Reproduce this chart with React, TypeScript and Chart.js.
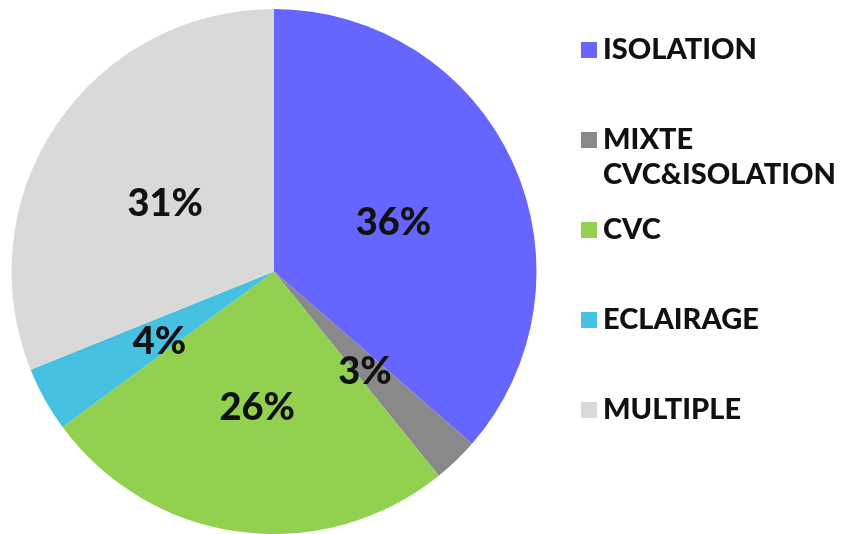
import React, { useEffect, useRef } from "react";
import { Chart, registerables } from "chart.js";

Chart.register(...registerables);

const categories: string[][] = [
  ["ISOLATION"],
  ["MIXTE", "CVC&ISOLATION"],
  ["CVC"],
  ["ECLAIRAGE"],
  ["MULTIPLE"],
];
const values: number[] = [36.4, 2.8, 25.7, 4.0, 31.1];
const colors: string[] = ["#6666FF", "#898989", "#92D050", "#47C1E1", "#D9D9D9"];

const FONT = "Lato, 'Open Sans', sans-serif";

const pctLabels = {
  id: "pctLabels",
  afterDatasetsDraw(chart: any) {
    const ctx = chart.ctx;
    const meta = chart.getDatasetMeta(0);
    const total = values.reduce((a, b) => a + b, 0);
    ctx.save();
    ctx.font = `900 38px ${FONT}`;
    ctx.fillStyle = "#111111";
    ctx.textAlign = "center";
    ctx.textBaseline = "middle";
    meta.data.forEach((arc: any, i: number) => {
      const p = arc.getCenterPoint();
      const pct = Math.round((values[i] / total) * 100);
      ctx.fillText(`${pct}%`, p.x, p.y + 6);
    });
    ctx.restore();
  },
};

const sideLegend = {
  id: "sideLegend",
  afterDraw(chart: any) {
    const ctx = chart.ctx;
    ctx.save();
    const boxX = 581;
    const textX = 603;
    const firstY = 50;
    const step = 90;
    const lineH = 35;
    ctx.font = `900 29px ${FONT}`;
    ctx.textBaseline = "middle";
    ctx.textAlign = "left";
    categories.forEach((lines, i) => {
      const cy = firstY + step * i;
      ctx.fillStyle = colors[i];
      ctx.fillRect(boxX, cy - 8, 16, 16);
      ctx.fillStyle = "#111111";
      lines.forEach((t, j) => {
        ctx.fillText(t, textX, cy + j * lineH);
      });
    });
    ctx.restore();
  },
};

export default function App() {
  const ref = useRef<HTMLCanvasElement | null>(null);
  useEffect(() => {
    document.body.style.margin = "0";
    if (!ref.current) return;
    const chart = new Chart(ref.current, {
      type: "pie",
      data: {
        labels: categories.map((c) => c.join(" ")),
        datasets: [
          {
            data: values,
            backgroundColor: colors,
            borderWidth: 0,
          },
        ],
      },
      options: {
        animation: false,
        responsive: false,
        layout: { padding: { left: 11, right: 307, top: 9, bottom: 0 } },
        plugins: {
          legend: { display: false },
          tooltip: { enabled: false },
        },
      },
      plugins: [pctLabels, sideLegend],
    });
    return () => chart.destroy();
  }, []);
  return (
    <div style={{ width: 844, height: 534 }}>
      <canvas ref={ref} width={844} height={534} />
    </div>
  );
}
